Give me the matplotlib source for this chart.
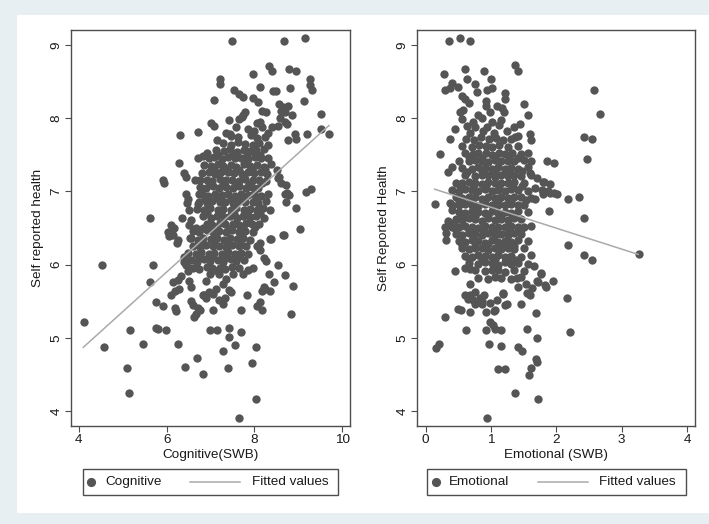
import matplotlib
matplotlib.use("Agg")
import matplotlib.pyplot as plt
from matplotlib.patches import Rectangle
from matplotlib.lines import Line2D

plt.rcParams["font.family"] = ["Liberation Sans", "DejaVu Sans"]

# Cognitive SWB vs self reported health
cognitive_pts = [
    (7.50, 9.06), (8.67, 9.06), (9.15, 9.09),
    (8.34, 8.72), (8.40, 8.65), (8.79, 8.67), (8.96, 8.65), (7.96, 8.60),
    (7.21, 8.54), (7.22, 8.47), (9.27, 8.54), (9.27, 8.46), (9.31, 8.38),
    (7.53, 8.38), (7.64, 8.33), (7.74, 8.29), (8.12, 8.42), (8.42, 8.37), (8.50, 8.37), (8.81, 8.41),
    (7.07, 8.25), (7.96, 8.27), (8.08, 8.22), (9.13, 8.24), (8.57, 8.19), (8.66, 8.15), (8.77, 8.17),
    (7.78, 8.09), (7.74, 8.05), (8.17, 8.10), (8.27, 8.08), (8.61, 8.10), (8.70, 8.08), (8.86, 8.04), (9.51, 8.06),
    (7.43, 7.98), (7.66, 7.99), (7.71, 8.02), (8.59, 8.00), (8.70, 7.95), (8.74, 7.92),
    (7.00, 7.94), (7.07, 7.89), (8.05, 7.93), (8.12, 7.95), (8.18, 7.88), (8.41, 7.88), (8.55, 7.90),
    (6.71, 7.81), (6.31, 7.77), (7.44, 7.79), (9.52, 7.85), (9.70, 7.79), (9.19, 7.78),
    (8.93, 7.79), (8.95, 7.71), (8.76, 7.70),
    (7.15, 7.70), (7.35, 7.80), (7.58, 7.88), (7.85, 7.85), (8.00, 7.82), (8.30, 7.80),
    (6.29, 7.39), (6.71, 7.45), (6.82, 7.48), (6.92, 7.52),
    (6.40, 7.25), (6.44, 7.20), (5.92, 7.15), (5.95, 7.12), (6.65, 7.16), (6.75, 7.16),
    (8.56, 7.20), (8.52, 7.29), (8.55, 7.18), (8.60, 7.12), (8.71, 7.09), (8.74, 6.98), (8.78, 6.95),
    (9.18, 6.99), (9.28, 7.03), (8.69, 6.97), (8.73, 6.86), (8.94, 6.78),
    (8.65, 6.40), (9.04, 6.49), (8.36, 6.35), (8.68, 6.40),
    (6.44, 6.97), (6.48, 6.90), (6.46, 6.84), (6.52, 6.75), (6.73, 6.97), (6.71, 6.83),
    (5.61, 6.64), (6.10, 6.54), (6.17, 6.50), (6.35, 6.63), (6.56, 6.61), (6.52, 6.54), (6.67, 6.50),
    (6.03, 6.45), (6.06, 6.39), (6.14, 6.40), (6.25, 6.34), (6.24, 6.30), (6.54, 6.37),
    (4.52, 6.00), (5.70, 6.00),
    (6.40, 6.11), (6.39, 6.04), (6.44, 6.00), (6.52, 5.95), (6.48, 5.91),
    (6.14, 5.76), (6.25, 5.79), (6.33, 5.84), (6.29, 5.66), (6.18, 5.64), (6.10, 5.59),
    (6.52, 5.77), (6.56, 5.70),
    (6.18, 5.41), (6.21, 5.36), (6.56, 5.50), (6.60, 5.45), (6.71, 5.41), (6.75, 5.38),
    (6.67, 5.32), (6.63, 5.29), (6.86, 5.59), (6.90, 5.54),
    (5.63, 5.76), (4.11, 5.21), (4.58, 4.87), (5.16, 5.11), (5.46, 4.92), (5.10, 4.59), (5.14, 4.25),
    (5.76, 5.49), (5.91, 5.44), (5.76, 5.14), (5.81, 5.12), (5.99, 5.11), (6.25, 4.92),
    (6.70, 4.72), (6.43, 4.60), (6.83, 4.50),
    (6.99, 5.11), (7.14, 5.11), (7.43, 5.14), (7.42, 5.01), (7.70, 5.08), (7.56, 4.90),
    (8.03, 4.88), (7.29, 4.82), (7.94, 4.66), (7.41, 4.59), (8.04, 4.17), (7.65, 3.91),
    (8.38, 6.35), (8.13, 6.30), (8.06, 6.25), (8.13, 6.20), (8.21, 6.09), (8.27, 6.05), (8.54, 6.00),
    (8.33, 5.87), (8.45, 5.76), (8.70, 5.86), (8.88, 5.71), (8.21, 5.69), (8.17, 5.64),
    (8.25, 5.66), (8.35, 5.64),
    (7.83, 5.58), (8.13, 5.49), (8.06, 5.44), (8.17, 5.38), (7.70, 5.38), (8.84, 5.33),
    (7.05, 5.38), (7.20, 5.51), (7.28, 5.46), (7.34, 5.55), (6.84, 5.58), (6.96, 5.62),
    (7.05, 5.60), (7.13, 5.67),
    (6.90, 5.78), (6.98, 5.87), (7.09, 5.92), (7.20, 5.87), (7.28, 5.74), (7.36, 5.80),
    (7.43, 5.65), (7.47, 5.62), (7.51, 5.87), (7.74, 5.87), (7.85, 5.92), (7.97, 5.96),
    # dense core
    (7.46, 7.76), (7.62, 7.74), (7.93, 7.77), (8.06, 7.73), (8.24, 7.75),
    (7.28, 7.66), (7.47, 7.64), (7.63, 7.67), (7.79, 7.65), (7.96, 7.63), (8.11, 7.66), (8.31, 7.64),
    (7.13, 7.57), (7.31, 7.55), (7.44, 7.58), (7.61, 7.54), (7.76, 7.57), (7.91, 7.55),
    (8.04, 7.56), (8.21, 7.58),
    (6.96, 7.45), (7.09, 7.47), (7.26, 7.44), (7.41, 7.47), (7.56, 7.45), (7.69, 7.46),
    (7.86, 7.44), (8.01, 7.47), (8.16, 7.45), (8.32, 7.46),
    (6.86, 7.36), (7.01, 7.35), (7.16, 7.37), (7.29, 7.35), (7.46, 7.36), (7.59, 7.34),
    (7.76, 7.37), (7.89, 7.35), (8.06, 7.36), (8.21, 7.34), (8.38, 7.37),
    (6.81, 7.25), (6.96, 7.27), (7.11, 7.24), (7.24, 7.26), (7.41, 7.27), (7.54, 7.25),
    (7.71, 7.24), (7.86, 7.27), (7.99, 7.25), (8.16, 7.26), (8.29, 7.24),
    (6.91, 7.16), (7.04, 7.14), (7.21, 7.17), (7.36, 7.15), (7.49, 7.16), (7.66, 7.14),
    (7.79, 7.17), (7.96, 7.15), (8.11, 7.16), (8.26, 7.14),
    (6.76, 7.06), (6.89, 7.04), (7.06, 7.07), (7.19, 7.05), (7.36, 7.06), (7.51, 7.04),
    (7.64, 7.07), (7.81, 7.05), (7.94, 7.06), (8.09, 7.04),
    (6.81, 6.96), (6.94, 6.94), (7.11, 6.97), (7.26, 6.95), (7.39, 6.96), (7.56, 6.94),
    (7.69, 6.97), (7.86, 6.95), (7.99, 6.96), (8.16, 6.94), (8.31, 6.97),
    (6.74, 6.86), (6.91, 6.84), (7.04, 6.87), (7.21, 6.85), (7.34, 6.86), (7.51, 6.84),
    (7.64, 6.87), (7.79, 6.85), (7.96, 6.86), (8.09, 6.84), (8.26, 6.87),
    (6.69, 6.76), (6.86, 6.74), (6.99, 6.77), (7.16, 6.75), (7.29, 6.76), (7.46, 6.74),
    (7.59, 6.77), (7.76, 6.75), (7.89, 6.76), (8.06, 6.74), (8.19, 6.77), (8.36, 6.75),
    (6.84, 6.66), (7.01, 6.64), (7.14, 6.67), (7.31, 6.65), (7.44, 6.66), (7.61, 6.64),
    (7.74, 6.67), (7.91, 6.65), (8.04, 6.66), (8.21, 6.64),
    (6.91, 6.56), (7.04, 6.54), (7.21, 6.57), (7.34, 6.55), (7.51, 6.56), (7.64, 6.54),
    (7.81, 6.57), (7.94, 6.55), (8.11, 6.56),
    (6.61, 6.46), (6.74, 6.44), (6.91, 6.47), (7.06, 6.45), (7.19, 6.46), (7.36, 6.44),
    (7.49, 6.47), (7.66, 6.45), (7.79, 6.46), (7.96, 6.44),
    (6.56, 6.36), (6.71, 6.34), (6.84, 6.37), (7.01, 6.35), (7.14, 6.36), (7.31, 6.34),
    (7.44, 6.37), (7.61, 6.35), (7.74, 6.36), (7.91, 6.34),
    (6.61, 6.26), (6.76, 6.24), (6.89, 6.27), (7.06, 6.25), (7.19, 6.26), (7.36, 6.24),
    (7.49, 6.27), (7.66, 6.25), (7.81, 6.26),
    (6.49, 6.16), (6.66, 6.14), (6.79, 6.17), (6.96, 6.15), (7.09, 6.16), (7.26, 6.14),
    (7.39, 6.17), (7.56, 6.15), (7.69, 6.16), (7.86, 6.14),
    (6.56, 6.06), (6.69, 6.04), (6.86, 6.07), (6.99, 6.05), (7.16, 6.06), (7.29, 6.04),
    (7.46, 6.07), (7.59, 6.05), (7.76, 6.06),
    (6.61, 5.96), (6.74, 5.94), (6.91, 5.97), (7.04, 5.95), (7.21, 5.96), (7.34, 5.94),
    (7.49, 5.97), (7.66, 5.95),
    (7.18, 7.50), (7.52, 7.51), (7.83, 7.49), (8.12, 7.50),
    (7.08, 7.30), (7.37, 7.31), (7.66, 7.29), (7.95, 7.30), (8.24, 7.31),
    (6.98, 7.10), (7.28, 7.11), (7.58, 7.09), (7.88, 7.10), (8.18, 7.11),
    (6.87, 6.90), (7.17, 6.91), (7.47, 6.89), (7.73, 6.90), (8.03, 6.91),
    (6.93, 6.70), (7.23, 6.71), (7.53, 6.69), (7.83, 6.70), (8.13, 6.71),
    (6.83, 6.50), (7.13, 6.51), (7.43, 6.49), (7.73, 6.50), (8.02, 6.51),
    (6.78, 6.30), (7.08, 6.31), (7.38, 6.29), (7.68, 6.30),
    (6.73, 6.10), (7.03, 6.11), (7.33, 6.09), (7.63, 6.10),
]

# Emotional SWB vs self reported health
emotional_pts = [
    (0.36, 9.06), (0.53, 9.09), (0.68, 9.06), (1.37, 8.73), (1.42, 8.64), (0.28, 8.60),
    (0.60, 8.67), (0.89, 8.65), (0.64, 8.54), (1.00, 8.54), (0.76, 8.47),
    (0.30, 8.39), (0.38, 8.41), (0.41, 8.48), (0.50, 8.42), (0.78, 8.36), (0.94, 8.38),
    (1.01, 8.41), (1.22, 8.35), (1.22, 8.26),
    (0.56, 8.30), (0.61, 8.26), (0.66, 8.21), (0.92, 8.24), (0.92, 8.17), (1.50, 8.19),
    (0.58, 8.11), (0.53, 8.08), (0.56, 7.99),
    (1.09, 8.16), (1.17, 8.14), (1.20, 8.09), (0.81, 8.04), (0.86, 8.00), (0.98, 8.08),
    (1.01, 7.95), (1.56, 8.05),
    (1.12, 7.91), (0.94, 7.88), (0.76, 7.88), (1.35, 7.88), (1.44, 7.92), (0.45, 7.85),
    (0.38, 7.72), (1.60, 7.79), (1.61, 7.70), (1.37, 7.75), (1.41, 7.76),
    (0.62, 7.72), (0.74, 7.70), (0.85, 7.74), (0.97, 7.71), (1.08, 7.73), (1.19, 7.70),
    (1.30, 7.72), (0.68, 7.80), (0.88, 7.82), (1.05, 7.80), (1.25, 7.82), (0.72, 7.95),
    (1.15, 7.98), (0.63, 7.90),
    (0.22, 7.51), (1.86, 7.41), (1.97, 7.39), (0.40, 7.34), (0.34, 7.27), (1.60, 7.25),
    (1.70, 7.18), (1.81, 7.13), (1.68, 7.04), (1.78, 7.02), (1.88, 7.00), (1.97, 6.98),
    (0.15, 6.83), (0.38, 6.84), (0.40, 6.75), (0.35, 6.59), (0.43, 6.57), (1.68, 6.90),
    (2.58, 8.38), (2.67, 8.06), (2.42, 7.75), (2.54, 7.71), (2.47, 7.44), (2.18, 6.89),
    (2.35, 6.92), (1.89, 6.73), (2.42, 6.63), (2.18, 6.27), (2.42, 6.13), (2.54, 6.06),
    (3.26, 6.15), (1.79, 7.13), (1.90, 7.10), (1.80, 6.97), (1.90, 6.98), (2.01, 6.97),
    (2.17, 5.54), (2.21, 5.08), (1.95, 5.77), (1.84, 5.70), (1.76, 5.87), (1.72, 5.76),
    (1.60, 5.58), (1.46, 5.46), (1.69, 5.34), (1.55, 5.12), (1.71, 5.00), (1.41, 4.88),
    (1.48, 4.82), (1.69, 4.71), (1.70, 4.67), (1.62, 4.59), (1.58, 4.49), (1.37, 4.24),
    (1.72, 4.17), (0.94, 3.91), (1.11, 4.58), (1.22, 4.58), (0.97, 4.91), (1.15, 4.89),
    (0.93, 5.10), (1.06, 5.12), (1.16, 5.10), (0.62, 5.10), (0.20, 4.92), (0.16, 4.86),
    (0.30, 5.29), (0.50, 5.40), (0.55, 5.38), (0.68, 5.35), (0.45, 5.91), (0.60, 5.96),
    (0.68, 5.94), (0.68, 5.73), (0.75, 5.62), (0.83, 5.55), (0.60, 5.58), (0.65, 5.53),
    (0.75, 5.46), (0.87, 5.46), (0.93, 5.35), (0.98, 5.21), (1.03, 5.17), (1.05, 5.37),
    (1.09, 5.51), (1.19, 5.60), (1.24, 5.46), (1.07, 5.38), (0.98, 5.48), (0.89, 5.59),
    (0.86, 5.50), (0.68, 5.59), (0.73, 5.52), (1.22, 5.45),
    (1.66, 5.98), (1.76, 5.89), (1.71, 5.77), (1.63, 5.68), (1.55, 5.61), (1.19, 5.61),
    (1.40, 5.82), (1.42, 5.70), (1.53, 5.73), (1.83, 5.72),
    (0.30, 6.52), (0.31, 6.43), (0.32, 6.34),
    # dense core
    (0.56, 7.62), (0.71, 7.61), (0.82, 7.63), (0.93, 7.62), (1.02, 7.60), (1.13, 7.63), (1.26, 7.61), (1.41, 7.62),
    (0.61, 7.52), (0.72, 7.51), (0.81, 7.53), (0.92, 7.52), (1.01, 7.50), (1.12, 7.53),
    (1.21, 7.51), (1.32, 7.52), (1.46, 7.51), (1.56, 7.53),
    (0.51, 7.42), (0.66, 7.41), (0.76, 7.43), (0.86, 7.42), (0.96, 7.40), (1.06, 7.43),
    (1.16, 7.41), (1.26, 7.42), (1.36, 7.41), (1.51, 7.43), (1.61, 7.42),
    (0.56, 7.32), (0.71, 7.31), (0.81, 7.33), (0.91, 7.32), (1.01, 7.30), (1.11, 7.33),
    (1.21, 7.31), (1.31, 7.32), (1.41, 7.31), (1.56, 7.33),
    (0.61, 7.22), (0.76, 7.21), (0.86, 7.23), (0.96, 7.22), (1.06, 7.20), (1.16, 7.23),
    (1.26, 7.21), (1.36, 7.22), (1.46, 7.21), (1.61, 7.23),
    (0.46, 7.12), (0.56, 7.11), (0.66, 7.13), (0.76, 7.12), (0.86, 7.10), (0.96, 7.13),
    (1.06, 7.11), (1.16, 7.12), (1.26, 7.11), (1.36, 7.13), (1.51, 7.12),
    (0.41, 7.02), (0.51, 7.01), (0.61, 7.03), (0.71, 7.02), (0.81, 7.00), (0.91, 7.03),
    (1.01, 7.01), (1.11, 7.02), (1.21, 7.01), (1.31, 7.03), (1.41, 7.02), (1.56, 7.01),
    (0.46, 6.92), (0.56, 6.91), (0.66, 6.93), (0.76, 6.92), (0.86, 6.90), (0.96, 6.93),
    (1.06, 6.91), (1.16, 6.92), (1.26, 6.91), (1.36, 6.93), (1.46, 6.92), (1.61, 6.91),
    (0.41, 6.82), (0.51, 6.81), (0.61, 6.83), (0.71, 6.82), (0.81, 6.80), (0.91, 6.83),
    (1.01, 6.81), (1.11, 6.82), (1.21, 6.81), (1.31, 6.83), (1.41, 6.82), (1.51, 6.81),
    (0.51, 6.72), (0.61, 6.71), (0.71, 6.73), (0.81, 6.72), (0.91, 6.70), (1.01, 6.73),
    (1.11, 6.71), (1.21, 6.72), (1.31, 6.71), (1.41, 6.73), (1.56, 6.72),
    (0.46, 6.62), (0.56, 6.61), (0.66, 6.63), (0.76, 6.62), (0.86, 6.60), (0.96, 6.63),
    (1.06, 6.61), (1.16, 6.62), (1.26, 6.61), (1.36, 6.63), (1.46, 6.62),
    (0.41, 6.52), (0.51, 6.51), (0.61, 6.53), (0.71, 6.52), (0.81, 6.50), (0.91, 6.53),
    (1.01, 6.51), (1.11, 6.52), (1.21, 6.51), (1.31, 6.53), (1.41, 6.52), (1.51, 6.51), (1.61, 6.53),
    (0.46, 6.42), (0.56, 6.41), (0.66, 6.43), (0.76, 6.42), (0.86, 6.40), (0.96, 6.43),
    (1.06, 6.41), (1.16, 6.42), (1.26, 6.41), (1.36, 6.43), (1.46, 6.42),
    (0.51, 6.32), (0.61, 6.31), (0.71, 6.33), (0.81, 6.32), (0.91, 6.30), (1.01, 6.33),
    (1.11, 6.31), (1.21, 6.32), (1.31, 6.31), (1.41, 6.33), (1.56, 6.32),
    (0.56, 6.22), (0.66, 6.21), (0.76, 6.23), (0.86, 6.22), (0.96, 6.20), (1.06, 6.23),
    (1.16, 6.21), (1.26, 6.22), (1.36, 6.21), (1.51, 6.23),
    (0.61, 6.12), (0.71, 6.11), (0.81, 6.13), (0.91, 6.12), (1.01, 6.10), (1.11, 6.13),
    (1.21, 6.11), (1.31, 6.12), (1.46, 6.11), (1.61, 6.13),
    (0.66, 6.02), (0.81, 6.01), (0.91, 6.03), (1.01, 6.02), (1.11, 6.00), (1.21, 6.03),
    (1.31, 6.01), (1.41, 6.02), (1.56, 6.01),
    (0.76, 5.92), (0.91, 5.91), (1.01, 5.93), (1.11, 5.92), (1.21, 5.90), (1.36, 5.93), (1.51, 5.91),
    (0.81, 5.82), (0.96, 5.81), (1.06, 5.83), (1.16, 5.82), (1.31, 5.80), (1.46, 5.83),
    (0.66, 7.47), (0.87, 7.46), (1.07, 7.48), (1.27, 7.47), (1.41, 7.46),
    (0.64, 7.27), (0.86, 7.28), (1.06, 7.26), (1.26, 7.27), (1.48, 7.28),
    (0.53, 7.07), (0.73, 7.06), (0.93, 7.08), (1.13, 7.07), (1.33, 7.06), (1.47, 7.08),
    (0.51, 6.87), (0.71, 6.86), (0.91, 6.88), (1.11, 6.87), (1.31, 6.86), (1.53, 6.88),
    (0.56, 6.67), (0.76, 6.66), (0.96, 6.68), (1.16, 6.67), (1.36, 6.66),
    (0.46, 6.47), (0.66, 6.46), (0.86, 6.48), (1.06, 6.47), (1.26, 6.46), (1.46, 6.48),
    (0.56, 6.27), (0.76, 6.26), (0.96, 6.28), (1.16, 6.27), (1.36, 6.26),
    (0.66, 6.07), (0.86, 6.06), (1.06, 6.08), (1.26, 6.07), (1.38, 6.06),
]

# fitted line end points
cog_fit_x = [4.10, 9.70]
cog_fit_y = [4.87, 7.90]
emo_fit_x = [0.14, 3.25]
emo_fit_y = [7.03, 6.14]

y_ticks = [4, 5, 6, 7, 8, 9]
cog_ticks = [4, 6, 8, 10]
emo_ticks = [0, 1, 2, 3, 4]

dot_color = "#555555"
fit_color = "#aaaaaa"
frame_color = "#4d4d4d"
text_color = "#1a1a1a"
fs = 9.7

W, H = 709, 524
fig = plt.figure(figsize=(W / 100, H / 100), dpi=100)
fig.patch.set_facecolor("#e8eff2")
fig.patches.append(Rectangle((17 / W, 11 / H), 692 / W, 498 / H,
                             transform=fig.transFigure, facecolor="white",
                             edgecolor="none", zorder=-10))


def fx(px):
    return px / W


def fy(py):
    return 1 - py / H


def legend_box(box, marker_x, label_x, line_x, fit_label_x, name):
    x0, y0, x1, y1 = box
    fig.patches.append(Rectangle((fx(x0), fy(y1)), fx(x1) - fx(x0), fy(y0) - fy(y1),
                                 transform=fig.transFigure, facecolor="white",
                                 edgecolor=frame_color, lw=1))
    yc = fy((y0 + y1) / 2)
    fig.lines.append(Line2D([fx(marker_x)], [yc], marker="o", markersize=5.6,
                            color=dot_color, ls="none", transform=fig.transFigure))
    fig.text(fx(label_x), yc, name, fontsize=fs, color=text_color, va="center")
    fig.lines.append(Line2D([fx(line_x[0]), fx(line_x[1])], [yc, yc], color=fit_color,
                            lw=1.1, transform=fig.transFigure))
    fig.text(fx(fit_label_x), yc, "Fitted values", fontsize=fs, color=text_color,
             va="center")


def draw_panel(ax, pts, fit_x, fit_y, xticks, xlim, xlabel, ylabel):
    xs = [p[0] for p in pts]
    ys = [p[1] for p in pts]
    ax.scatter(xs, ys, s=36, color=dot_color, linewidths=0, zorder=2)
    ax.plot(fit_x, fit_y, color=fit_color, lw=1.1, zorder=3)
    ax.set_xlim(xlim)
    ax.set_ylim(3.795, 9.205)
    ax.set_xticks(xticks)
    ax.set_yticks(y_ticks)
    ax.tick_params(length=4, width=0.8, color=frame_color, labelsize=fs,
                   labelcolor=text_color, pad=2)
    for lab in ax.get_yticklabels():
        lab.set_rotation(90)
        lab.set_va("center")
    for sp in ax.spines.values():
        sp.set_color(frame_color)
        sp.set_linewidth(1)
    ax.set_xlabel(xlabel, fontsize=fs, color=text_color, labelpad=2)
    ax.set_ylabel(ylabel, fontsize=fs, color=text_color, labelpad=5)


ax1 = fig.add_axes([fx(71), fy(426), 279 / W, 396 / H])
draw_panel(ax1, cognitive_pts, cog_fit_x, cog_fit_y, cog_ticks, (3.82, 10.18),
           "Cognitive(SWB)", "Self reported health")
legend_box((83, 469, 338, 495), 91, 105, (190, 240), 252, "Cognitive")

ax2 = fig.add_axes([fx(417), fy(426), 278 / W, 396 / H])
draw_panel(ax2, emotional_pts, emo_fit_x, emo_fit_y, emo_ticks, (-0.13, 4.12),
           "Emotional (SWB)", "Self Reported Health")
legend_box((427, 469, 686, 495), 436, 449, (538, 588), 599, "Emotional")

fig.savefig("out.png", dpi=100, facecolor=fig.get_facecolor())
